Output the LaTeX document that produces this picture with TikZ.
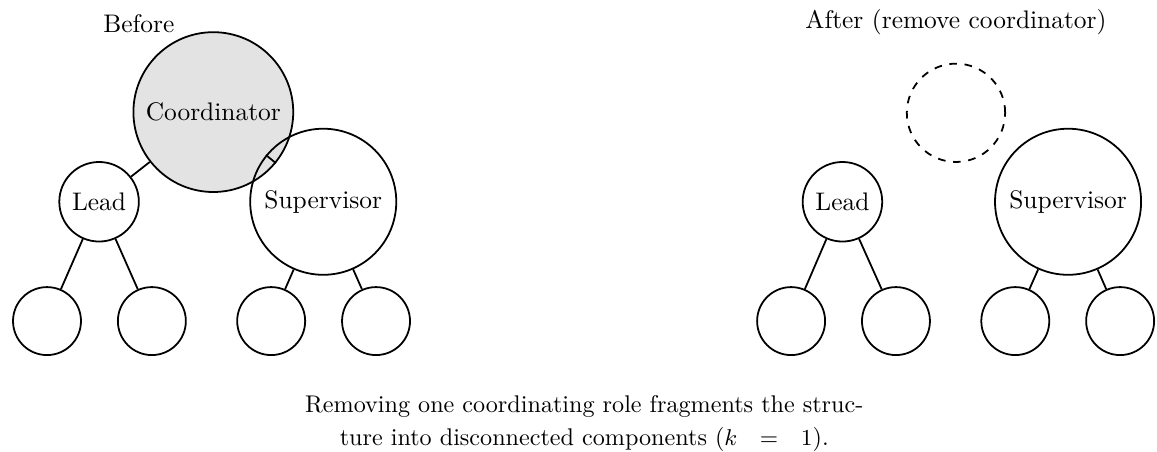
\documentclass[tikz,border=0pt]{standalone}
\usepackage{tikz}
\usetikzlibrary{positioning}

\begin{document}
\begin{tikzpicture}[line width=0.7pt, auto,
	role/.style={circle, draw, inner sep=0pt},
	leaf/.style={role, minimum size=0.94cm},
	lead/.style={role, minimum size=1.10cm},
	super/.style={role, minimum size=2.02cm},
	coord/.style={role, minimum size=2.21cm, fill=black!11},
	gone/.style={role, dashed, minimum size=1.36cm}]
	\useasboundingbox (0,0) rectangle (16,6.25);

	% Before: nodes
	\node [coord]	(c1)	at (2.95,4.70)	{Coordinator};
	\node [lead]	(l1)	at (1.37,3.46)	{Lead};
	\node [super]	(s1)	at (4.47,3.46)	{Supervisor};
	\node [leaf]	(l1a)	at (0.65,1.81)	{};
	\node [leaf]	(l1b)	at (2.10,1.81)	{};
	\node [leaf]	(s1a)	at (3.75,1.81)	{};
	\node [leaf]	(s1b)	at (5.20,1.81)	{};
	\node (before) at (1.92,5.92) {Before};

	% Before: paths
	\path (c1) edge (l1);
	\path (c1) edge (s1);
	\path (l1) edge (l1a);
	\path (l1) edge (l1b);
	\path (s1) edge (s1a);
	\path (s1) edge (s1b);

	% After: nodes
	\node [gone]	(c2)	at (13.22,4.69)	{};
	\node [lead]	(l2)	at (11.65,3.46)	{Lead};
	\node [super]	(s2)	at (14.77,3.46)	{Supervisor};
	\node [leaf]	(l2a)	at (10.94,1.81)	{};
	\node [leaf]	(l2b)	at (12.39,1.81)	{};
	\node [leaf]	(s2a)	at (14.04,1.81)	{};
	\node [leaf]	(s2b)	at (15.49,1.81)	{};
	\node (after) at (13.22,5.95) {After (remove coordinator)};

	% After: paths
	\path (l2) edge (l2a);
	\path (l2) edge (l2b);
	\path (s2) edge (s2a);
	\path (s2) edge (s2b);

	% Caption
	\node (caption) at (8.08,0.40) [align=center,
		font=\fontsize{9.5}{13}\selectfont]
		{Removing one coordinating role fragments the struc-\\
		 ture into disconnected components ($k\ \ =\ \ 1$).};
\end{tikzpicture}
\end{document}
